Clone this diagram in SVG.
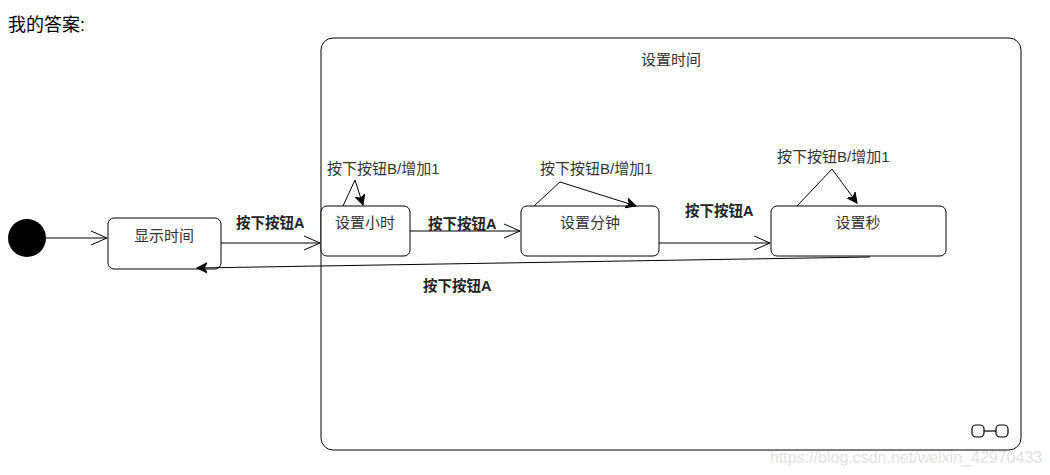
<svg xmlns="http://www.w3.org/2000/svg" width="1050" height="475" viewBox="0 0 1050 475">
<style>
text{font-family:"Liberation Sans","Noto Sans CJK SC",sans-serif;fill:#333}
.n{font-size:15px}
.b{font-size:14.5px;font-weight:bold;fill:#222}
.st{fill:#fff;stroke:#000;stroke-width:1}
.e{fill:none;stroke:#000;stroke-width:1}
</style>
<defs>
<marker id="open" markerWidth="20" markerHeight="16" refX="18" refY="8" orient="auto" markerUnits="userSpaceOnUse">
<path d="M2,1 L18,8 L2,15" fill="none" stroke="#000" stroke-width="1"/>
</marker>
<marker id="fill" markerWidth="12" markerHeight="12" refX="10" refY="6" orient="auto" markerUnits="userSpaceOnUse">
<path d="M0,1 L10,6 L0,11 L3,6 Z" fill="#000" stroke="#000" stroke-width="1"/>
</marker>
</defs>
<rect width="1050" height="475" fill="#fff"/>
<text x="8" y="31" style="font-size:18px;fill:#000">我的答案:</text>
<g id="container">
<rect x="321" y="38" width="700" height="412" rx="12" class="st"/>
<text x="671" y="65" class="n" text-anchor="middle">设置时间</text>
<g fill="none" stroke="#000" stroke-width="1.2">
<rect x="972" y="425" width="12" height="12" rx="4"/>
<rect x="996" y="425" width="12" height="12" rx="4"/>
<line x1="984" y1="431" x2="996" y2="431"/>
</g>
</g>
<g id="initial"><circle cx="27" cy="238" r="19" fill="#000"/></g>
<g id="show"><rect x="108" y="218" width="113" height="51" rx="6" class="st"/><text x="164" y="241" class="n" text-anchor="middle">显示时间</text></g>
<g id="hour"><rect x="321" y="206" width="89" height="50" rx="6" class="st"/><text x="365" y="228" class="n" text-anchor="middle">设置小时</text></g>
<g id="minute"><rect x="521" y="206" width="138" height="50" rx="6" class="st"/><text x="590" y="228" class="n" text-anchor="middle">设置分钟</text></g>
<g id="second"><rect x="771" y="206" width="175" height="50" rx="6" class="st"/><text x="858" y="228" class="n" text-anchor="middle">设置秒</text></g>
<g id="connectors">
<line x1="46" y1="238" x2="107" y2="238" class="e" marker-end="url(#open)"/>
<line x1="221" y1="243" x2="320" y2="243" class="e" marker-end="url(#open)"/>
<line x1="410" y1="231" x2="520" y2="231" class="e" marker-end="url(#open)"/>
<line x1="659" y1="243" x2="770" y2="243" class="e" marker-end="url(#open)"/>
<line x1="870" y1="257" x2="197" y2="268" class="e" marker-end="url(#fill)"/>
<polyline points="343,206 355,180 363,205" class="e" marker-end="url(#fill)"/>
<polyline points="534,206 560,182 636,206" class="e" marker-end="url(#fill)"/>
<polyline points="797,206 832,169 857,203" class="e" marker-end="url(#fill)"/>
<text x="236" y="228" class="b">按下按钮A</text>
<text x="428" y="229" class="b">按下按钮A</text>
<text x="685" y="216" class="b">按下按钮A</text>
<text x="423" y="291" class="b">按下按钮A</text>
<text x="327" y="174" class="n">按下按钮B/增加1</text>
<text x="540" y="174" class="n">按下按钮B/增加1</text>
<text x="777" y="162" class="n">按下按钮B/增加1</text>
</g>
<text x="770" y="463" style="font-size:16px;fill:#e4e4e4">https://blog.csdn.net/weixin_42970433</text>
</svg>
